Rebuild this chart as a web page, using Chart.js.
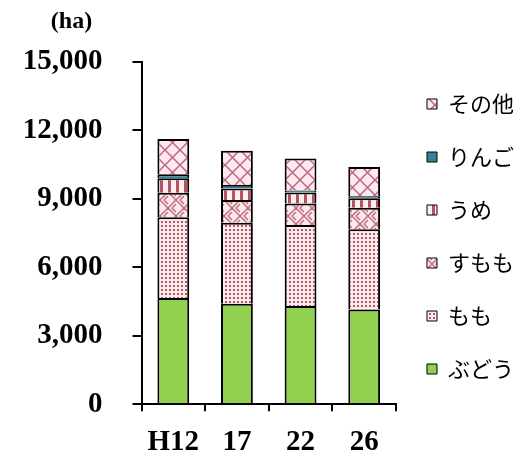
<!DOCTYPE html>
<html>
<head>
<meta charset="utf-8">
<script src="https://cdn.jsdelivr.net/npm/chart.js@4.4.0/dist/chart.umd.min.js"></script>
<style>
    body { margin: 0; background: #fff; }
</style>
</head>
<body>
<canvas id="grafico" width="524" height="457"></canvas>
<script>
// dados (ha)
const anos = ['H12', '17', '22', '26'];
const budou = [4650, 4400, 4300, 4150];
const momo = [3550, 3550, 3550, 3520];
const sumomo = [1070, 1000, 950, 940];
const ume = [630, 510, 480, 420];
const ringo = [180, 150, 90, 80];
const sonota = [1540, 1500, 1400, 1290];
const ticksY = [0, 3000, 6000, 9000, 12000, 15000];

// cria padrão de preenchimento num canvas pequeno
function criarPadrao(tam, fundo, desenhar) {
    const c = document.createElement('canvas');
    c.width = tam;
    c.height = tam;
    const g = c.getContext('2d');
    g.fillStyle = fundo;
    g.fillRect(0, 0, tam, tam);
    desenhar(g, tam);
    return g.createPattern(c, 'repeat');
}

const padraoMomo = criarPadrao(4, '#fbe9ec', function (g) {
    g.fillStyle = '#b25a68';
    g.fillRect(1, 1, 2, 2);
});

const padraoUme = criarPadrao(8, '#fdeef0', function (g) {
    g.fillStyle = '#b5525f';
    g.fillRect(0, 0, 3, 8);
});

const padraoSumomo = criarPadrao(16, '#fde8ec', function (g) {
    g.strokeStyle = '#bf6f80';
    g.lineWidth = 1.5;
    g.beginPath();
    // quadrantes alternados como trama de cesto
    for (let k = 0; k < 3; k++) {
        g.moveTo(k * 4, 8); g.lineTo(8, k * 4);
        g.moveTo(8 + k * 4, 16); g.lineTo(16, 8 + k * 4);
        g.moveTo(8 + k * 4, 0); g.lineTo(16, 8 - k * 4);
        g.moveTo(k * 4, 8); g.lineTo(8, 16 - k * 4);
    }
    g.stroke();
});

const padraoSonota = criarPadrao(15, '#fde9f0', function (g, t) {
    g.strokeStyle = '#c0687e';
    g.lineWidth = 1.5;
    g.beginPath();
    g.moveTo(0, 0); g.lineTo(t, t);
    g.moveTo(t, 0); g.lineTo(0, t);
    g.stroke();
});

// texto "(ha)" acima do eixo y
const unidadePlugin = {
    id: 'unidade',
    afterDraw(chart) {
        const ctx = chart.ctx;
        ctx.save();
        ctx.font = 'bold 24px "Liberation Serif"';
        ctx.fillStyle = '#000';
        ctx.textAlign = 'center';
        ctx.textBaseline = 'middle';
        ctx.fillText('(ha)', chart.chartArea.left - 70, 22);
        ctx.restore();
    }
};

function serie(nome, dados, cor) {
    return {
        label: nome,
        data: dados,
        backgroundColor: cor,
        borderColor: '#000',
        borderWidth: 2,
        barPercentage: 0.5,
        categoryPercentage: 1
    };
}

const dadosGrafico = {
    labels: anos,
    datasets: [
        serie('ぶどう', budou, '#92d050'),
        serie('もも', momo, padraoMomo),
        serie('すもも', sumomo, padraoSumomo),
        serie('うめ', ume, padraoUme),
        serie('りんご', ringo, '#31849b'),
        serie('その他', sonota, padraoSonota)
    ]
};

const fonteEixo = { family: '"Liberation Serif"', size: 29, weight: 'bold' };

const config = {
    type: 'bar',
    data: dadosGrafico,
    options: {
        responsive: false,
        animation: false,
        layout: { padding: { top: 62, left: 14, bottom: -17, right: 0 } },
        plugins: {
            tooltip: { enabled: false },
            legend: {
                position: 'right',
                align: 'start',
                reverse: true,
                maxWidth: 136,
                labels: {
                    boxWidth: 10,
                    boxHeight: 10,
                    padding: 31,
                    color: '#000',
                    font: { family: '"Noto Sans CJK JP"', size: 22 },
                    generateLabels(chart) {
                        const itens = Chart.defaults.plugins.legend.labels.generateLabels(chart);
                        itens.forEach(function (it) { it.lineWidth = 1; });
                        return itens;
                    }
                }
            }
        },
        scales: {
            x: {
                stacked: true,
                grid: { offset: true, drawOnChartArea: false, color: '#000', lineWidth: 2, tickLength: 7 },
                border: { color: '#000', width: 2 },
                ticks: { color: '#000', font: fonteEixo, padding: 14 }
            },
            y: {
                stacked: true,
                min: 0,
                max: 15000,
                afterBuildTicks(eixo) {
                    eixo.ticks = ticksY.map(function (v) { return { value: v }; });
                },
                grid: { drawOnChartArea: false, color: '#000', lineWidth: 2, tickLength: 9 },
                border: { color: '#000', width: 2 },
                ticks: {
                    color: '#000',
                    font: fonteEixo,
                    padding: 30,
                    callback: function (v) { return v.toLocaleString('en-US'); }
                }
            }
        }
    },
    plugins: [unidadePlugin]
};

let meuGrafico = new Chart(document.getElementById('grafico'), config);
</script>
</body>
</html>
